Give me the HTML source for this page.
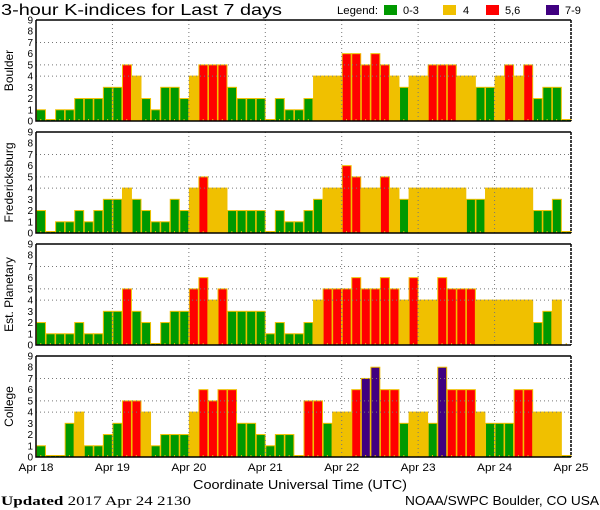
<!DOCTYPE html>
<html><head><meta charset="utf-8"><style>
html,body{margin:0;padding:0;background:#fff;width:600px;height:510px;overflow:hidden}
svg{display:block;font-family:"Liberation Sans",sans-serif}
</style></head><body>
<svg id="chart" width="600" height="510" viewBox="0 0 600 510">
<text x="1" y="15" font-size="16" textLength="281" lengthAdjust="spacingAndGlyphs">3-hour K-indices for Last 7 days</text>
<g font-size="11">
<text x="337" y="14" textLength="41" lengthAdjust="spacingAndGlyphs">Legend:</text>
<rect x="384" y="5" width="13" height="10" fill="#009900"/>
<text x="403" y="14">0-3</text>
<rect x="443" y="5" width="13" height="10" fill="#f0c000"/>
<text x="463" y="14">4</text>
<rect x="486" y="5" width="13" height="10" fill="#ff0000"/>
<text x="505" y="14">5,6</text>
<rect x="546" y="5" width="13" height="10" fill="#400080"/>
<text x="565" y="14">7-9</text>
</g>
<text x="193" y="489" font-size="13" textLength="214" lengthAdjust="spacingAndGlyphs">Coordinate Universal Time (UTC)</text>
<text x="1" y="505" font-size="13" font-family="Liberation Serif" textLength="190" lengthAdjust="spacingAndGlyphs"><tspan font-weight="bold">Updated</tspan> 2017 Apr 24 2130</text>
<text x="405" y="505" font-size="13" textLength="194" lengthAdjust="spacingAndGlyphs">NOAA/SWPC Boulder, CO USA</text>
</svg>
<script>
const panelNames = ["Boulder","Fredericksburg","Est. Planetary","College"];
const boulder = [1,0,1,1,2,2,2,3,3,5,4,2,1,3,3,2,4,5,5,5,3,2,2,2,0,2,1,1,2,4,4,4,6,6,5,6,5,4,3,4,4,5,5,5,4,4,3,3,4,5,4,5,2,3,3,0];
const fredericksburg = [2,0,1,1,2,1,2,3,3,4,3,2,1,1,3,2,4,5,4,4,2,2,2,2,0,2,1,1,2,3,4,4,6,5,4,4,5,4,3,4,4,4,4,4,4,3,3,4,4,4,4,4,2,2,3,0];
const planetary = [2,1,1,1,2,1,1,3,3,5,3,2,0,2,3,3,5,6,4,5,3,3,3,3,1,2,1,1,2,4,5,5,5,6,5,5,6,5,4,6,4,4,6,5,5,5,4,4,4,4,4,4,2,3,4,null];
const college = [1,0,0,3,4,1,1,2,3,5,5,4,1,2,2,2,4,6,5,6,6,3,3,2,1,2,2,0,5,5,3,4,4,6,7,8,6,6,3,4,4,3,8,6,6,6,4,3,3,3,6,6,4,4,4,0];
const dayLabels = ["Apr 18","Apr 19","Apr 20","Apr 21","Apr 22","Apr 23","Apr 24","Apr 25"];
const yTicks = [0,1,2,3,4,5,6,7,8,9];
const gridLevels = [4,5,7];

const series = [boulder,fredericksburg,planetary,college];
const panelTops = [20,132,244,356];
const NS = "http://www.w3.org/2000/svg";
const svg = document.getElementById("chart");
const X0 = 36, X1 = 571, PH = 101;
const n = boulder.length;
const bw = (X1 - X0) / n;
function xScale(i){ return X0 + i * bw; }
function mk(tag, attrs, parent){
  const e = document.createElementNS(NS, tag);
  for (const k in attrs) e.setAttribute(k, attrs[k]);
  (parent || svg).appendChild(e);
  return e;
}
function color(v){ return v <= 3 ? "#009900" : v == 4 ? "#f0c000" : v <= 6 ? "#ff0000" : "#400080"; }

series.forEach((vals, p) => {
  const top = panelTops[p], bot = top + PH;
  const yScale = v => bot - v * PH / 9;
  const g = mk("g", {});
  
  
  vals.forEach((v, i) => {
    if (v === null) return;
    const h = Math.max(v * PH / 9, 1.5);
    const r = mk("rect", {x: xScale(i) + 0.5, y: bot - h, width: bw - 0.6, height: h, fill: color(v), stroke: "#f0c000", "stroke-width": 1}, g);
    
    
  });
  gridLevels.forEach(l => {
    const ln = mk("line", {x1: X0, x2: X1, y1: yScale(l), y2: yScale(l), stroke: "#777", "stroke-dasharray": "1,3"}, g);
    
    
  });
  for (let d = 1; d < 7; d++) {
    const x = xScale(d * 8);
    const ln = mk("line", {x1: x, x2: x, y1: top, y2: bot, stroke: "#777", "stroke-dasharray": "1,3"}, g);
    
    
  }
  for (let i = 0; i < n; i++) {
    const t = mk("line", {x1: xScale(i + 0.5), x2: xScale(i + 0.5), y1: bot - 2, y2: bot, stroke: "#f0c000"}, g);
    
    
  }
  const fr = mk("path", {d: `M${X0},${top}H${X1} M${X0},${top}V${bot}H${X1}`, stroke: "#000", "stroke-width": 1.5, fill: "none"}, g);
  
  
  const rb = mk("line", {x1: X1, x2: X1, y1: top, y2: bot, stroke: "#000", "stroke-width": 1.5, "stroke-dasharray": "3,1"}, g);
  
  
  yTicks.forEach(t => {
    const tx = mk("text", {x: 33, y: yScale(t) + 3.5, "font-size": 10, "text-anchor": "end"}, g);
    tx.textContent = t;
    
    
  });
  const lab = mk("text", {x: 0, y: 0, "font-size": 12, "text-anchor": "middle", transform: `translate(13,${top + PH / 2}) rotate(-90)`}, g);
  lab.textContent = panelNames[p];
  
  
});
dayLabels.forEach((d, i) => {
  const t = mk("text", {x: xScale(i * 8) - 17.5, y: 471, "font-size": 11, textLength: 35, lengthAdjust: "spacingAndGlyphs"});
  t.textContent = d;
  
  
});
</script>
</body></html>
